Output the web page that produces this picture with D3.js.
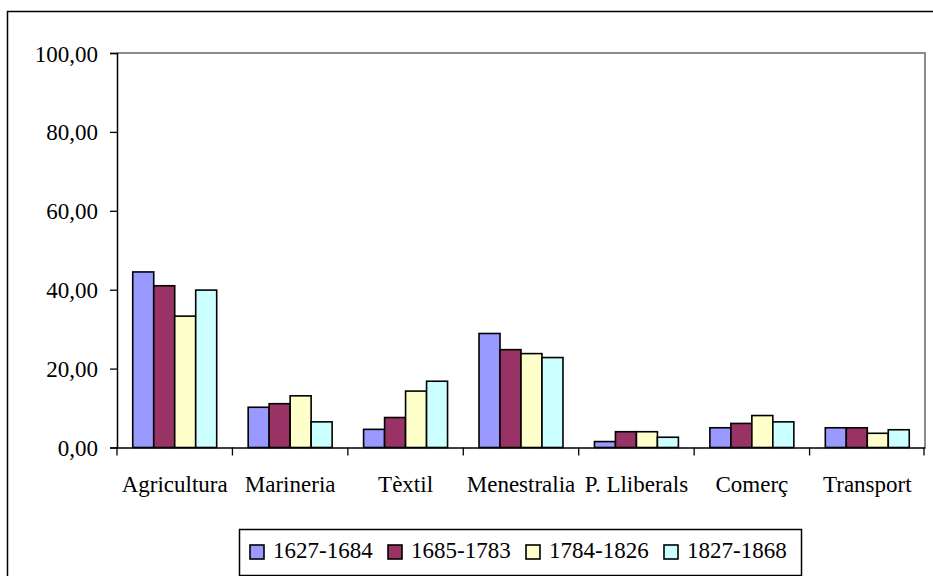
<!DOCTYPE html>
<html><head><meta charset="utf-8">
<script src="https://cdn.jsdelivr.net/npm/d3@7"></script>
<style>body{margin:0;background:#fff}svg{display:block}</style>
</head><body>
<script>
const categories = ["Agricultura","Marineria","Tèxtil","Menestralia","P. Lliberals","Comerç","Transport"];
const seriesNames = ["1627-1684","1685-1783","1784-1826","1827-1868"];
const s1627 = [44.5, 10.2, 4.6, 28.9, 1.5, 5.0, 5.0];
const s1685 = [41.0, 11.1, 7.6, 24.8, 4.0, 6.1, 5.0];
const s1784 = [33.3, 13.1, 14.3, 23.8, 4.0, 8.1, 3.6];
const s1827 = [39.9, 6.5, 16.8, 22.8, 2.6, 6.5, 4.5];
const yTicks = [0,20,40,60,80,100];
const colors = ["#9999FF","#993366","#FFFFCC","#CCFFFF"];
const seriesVals = [s1627, s1685, s1784, s1827];

(function(){
const FONT='"Liberation Serif"';
const FS=23;
const W=933,H=576;
const svg=d3.select("body").append("svg").attr("width",W).attr("height",H);
svg.append("path").attr("d","M7.5,576 V11.5 H933").attr("fill","none").attr("stroke","#000").attr("stroke-width",1.5);

const pL=117,pR=925,pT=53,pB=447.5;
const x=d3.scaleBand().domain(categories).range([pL,pR]).padding(0);
const xs=d3.scaleBand().domain(seriesNames).range([0,x.bandwidth()]).paddingInner(0).paddingOuter(0.75);
const y=d3.scaleLinear().domain([0,100]).range([pB,pT]);

svg.append("path").attr("d",`M${pL},${pT} H${pR} V${pB}`).attr("fill","none").attr("stroke","#8c8c8c").attr("stroke-width",2);

categories.forEach((c,i)=>{
  seriesNames.forEach((s,j)=>{
    const v=seriesVals[j][i];
    svg.append("rect").attr("x",x(c)+xs(s)).attr("y",y(v)).attr("width",xs.bandwidth()).attr("height",y(0)-y(v))
      .attr("fill",colors[j]).attr("stroke","#000").attr("stroke-width",1.6);
  });
});

const yAxis=d3.axisLeft(y).tickValues(yTicks).tickSize(7).tickPadding(12).tickFormat(d=>d3.format(".2f")(d).replace(".",","));
const ga=svg.append("g").attr("transform",`translate(${pL},0)`).call(yAxis);
ga.select(".domain").attr("stroke","#000").attr("stroke-width",1.5);
ga.selectAll(".tick line").attr("stroke","#000").attr("stroke-width",1.3);
ga.selectAll(".tick text").style("font-size",FS+"px").style("font-family",FONT).attr("fill","#000").attr("dy","0.35em");

const xAxis=d3.axisBottom(x).tickSize(0).tickPadding(0);
const gx=svg.append("g").attr("transform",`translate(0,${pB})`).call(xAxis);
gx.select(".domain").attr("stroke","#000").attr("stroke-width",1.5);
gx.selectAll(".tick text").style("font-size",FS+"px").style("font-family",FONT).attr("fill","#000").attr("dy",0).attr("y",44);
const bounds=categories.map(c=>x(c)).concat([pR-1]);
gx.selectAll(".btick").data(bounds).enter().append("line").attr("x1",d=>d).attr("x2",d=>d).attr("y1",0).attr("y2",8).attr("stroke","#000").attr("stroke-width",1.3);

const lg=svg.append("g");
lg.append("rect").attr("x",239.5).attr("y",529.5).attr("width",562).attr("height",46).attr("fill","#fff").attr("stroke","#000").attr("stroke-width",1.5);
const lx=d3.scalePoint().domain(seriesNames).range([250,664]);
seriesNames.forEach((s,j)=>{
  lg.append("rect").attr("x",lx(s)).attr("y",545).attr("width",14).attr("height",14).attr("fill",colors[j]).attr("stroke","#000").attr("stroke-width",1.6);
  lg.append("text").attr("x",lx(s)+23).attr("y",558).style("font-size",FS+"px").style("font-family",FONT).attr("fill","#000").text(s);
});
})();
</script>
</body></html>
